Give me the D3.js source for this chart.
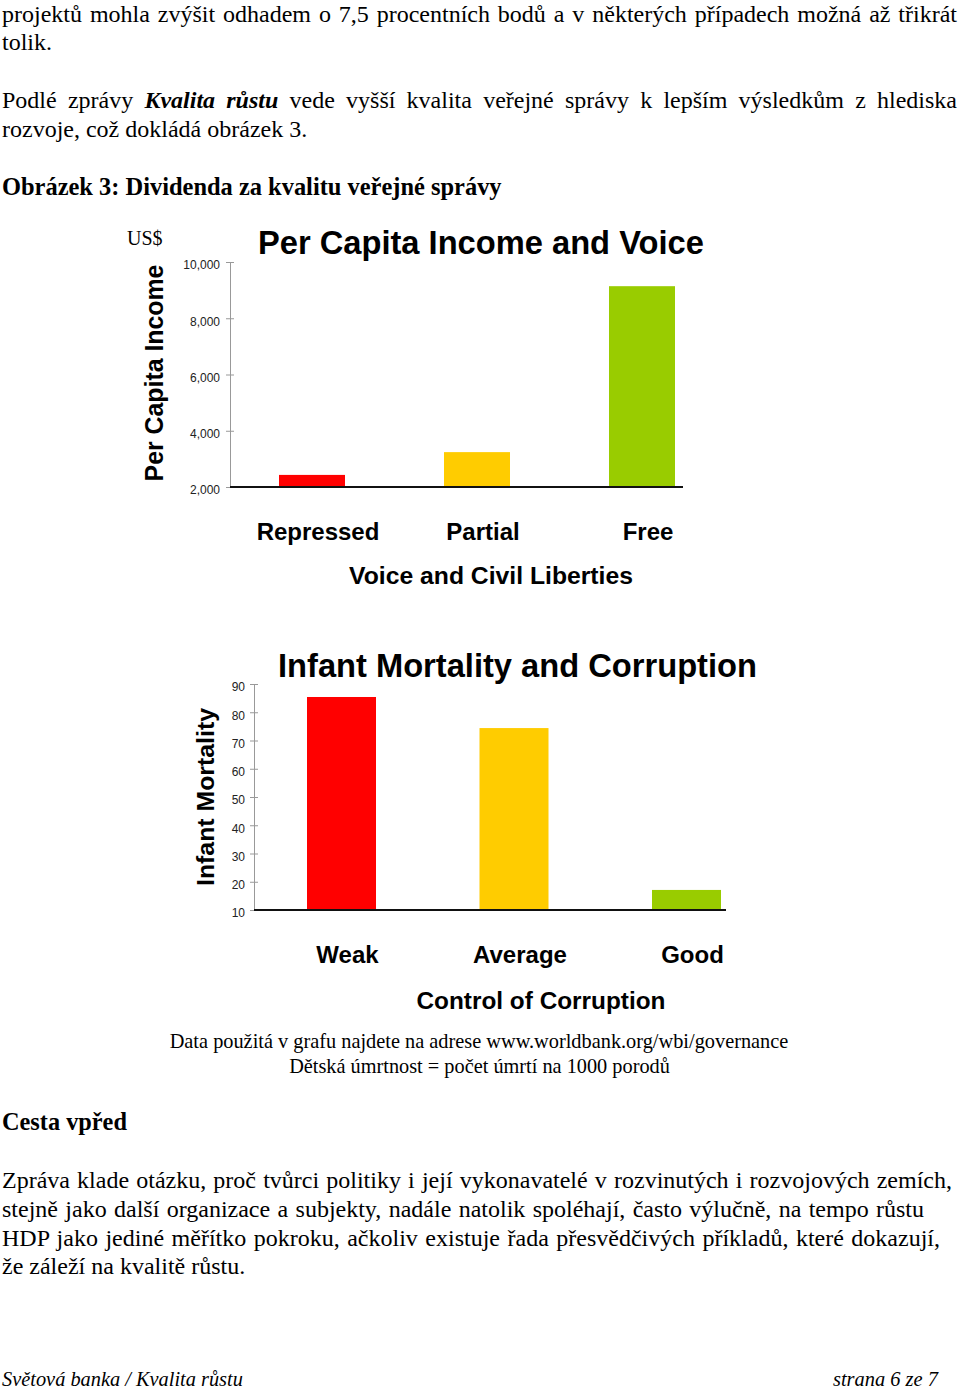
<!DOCTYPE html>
<html><head><meta charset="utf-8">
<script src="https://cdn.jsdelivr.net/npm/d3@7"></script>
<style>html,body{margin:0;padding:0;background:#fff;}svg{display:block;}</style>
</head><body>
<script>
// ---------- data ----------
const voiceCategories = ["Repressed", "Partial", "Free"];
const incomeValues = [2430, 3240, 9140];
const incomeTicks = [2000, 4000, 6000, 8000, 10000];

const corruptionCategories = ["Weak", "Average", "Good"];
const mortalityValues = [85.4, 74.4, 17.1];
const mortalityTicks = [10, 20, 30, 40, 50, 60, 70, 80, 90];

const barColors = ["#ff0000", "#ffcc00", "#99cc00"];

// ---------- page ----------
const W = 960, H = 1391;
const svg = d3.select("body").append("svg").attr("width", W).attr("height", H);
svg.append("rect").attr("width", W).attr("height", H).attr("fill", "#fff");

const SERIF = "'Liberation Serif','Times New Roman',serif";
const SANS = "'Liberation Sans',Arial,sans-serif";

function fitWidth(sel, w) {
  const len = sel.node().getComputedTextLength();
  const fs = parseFloat(sel.attr("font-size"));
  sel.attr("font-size", fs * w / len);
  return sel;
}
function justify(sel, w) {
  const n = sel.node();
  const len = n.getComputedTextLength();
  const spaces = (n.textContent.match(/ /g) || []).length;
  if (spaces > 0) sel.style("word-spacing", ((w - len) / spaces) + "px");
  return sel;
}
function bodyLine(x, y, txt, opts = {}) {
  const t = svg.append("text").attr("x", x).attr("y", y)
    .attr("font-family", SERIF).attr("font-size", opts.size || 24)
    .attr("font-weight", opts.bold ? "bold" : "normal")
    .attr("font-style", opts.italic ? "italic" : "normal")
    .attr("fill", "#000").text(txt);
  return t;
}

// top paragraph
justify(bodyLine(2, 22, "projektů mohla zvýšit odhadem o 7,5 procentních bodů a v některých případech možná až třikrát"), 955);
bodyLine(2, 50, "tolik.");
{
  const t = svg.append("text").attr("x", 2).attr("y", 108)
    .attr("font-family", SERIF).attr("font-size", 24).attr("fill", "#000");
  t.append("tspan").text("Podlé zprávy ");
  t.append("tspan").attr("font-weight", "bold").attr("font-style", "italic").text("Kvalita růstu");
  t.append("tspan").text(" vede vyšší kvalita veřejné správy k lepším výsledkům z hlediska");
  justify(t, 955);
}
bodyLine(2, 137, "rozvoje, což dokládá obrázek 3.");
fitWidth(bodyLine(2, 195, "Obrázek 3: Dividenda za kvalitu veřejné správy", { bold: true }), 500);

// ---------- chart helpers ----------
function drawChart(cfg) {
  const g = svg.append("g");
  const x = d3.scaleBand().domain(cfg.categories).range(cfg.xRange)
    .paddingInner(0.6).paddingOuter(0.2);
  const y = d3.scaleLinear().domain(cfg.yDomain).range(cfg.yRange);

  // y axis
  const ax = g.append("g").attr("transform", `translate(${cfg.axisX},0)`)
    .call(d3.axisLeft(y).tickValues(cfg.ticks).tickFormat(cfg.fmt).tickSizeOuter(0).tickSizeInner(4).tickPadding(6));
  ax.select(".domain").attr("stroke", "#999").attr("stroke-width", 1);
  ax.selectAll(".tick line").attr("x1", -4).attr("x2", 4).attr("stroke", "#999");
  ax.selectAll(".tick text").attr("x", cfg.labelX).attr("dy", "0.32em")
    .attr("transform", "translate(0,3)")
    .attr("font-family", SANS).attr("font-size", 12).attr("fill", "#222");

  // bars
  g.selectAll("rect.bar").data(cfg.values).join("rect").attr("class", "bar")
    .attr("x", (d, i) => x(cfg.categories[i]))
    .attr("width", x.bandwidth())
    .attr("y", d => y(d))
    .attr("height", d => y(cfg.yDomain[0]) - y(d))
    .attr("fill", (d, i) => barColors[i]);

  // baseline
  g.append("line").attr("x1", cfg.axisX).attr("x2", cfg.baseEnd)
    .attr("y1", y(cfg.yDomain[0])).attr("y2", y(cfg.yDomain[0]))
    .attr("stroke", "#111").attr("stroke-width", 2);

  // category labels
  g.selectAll("text.cat").data(cfg.categories).join("text").attr("class", "cat")
    .attr("x", d => x(d) + x.bandwidth() / 2 + 6).attr("y", cfg.catY)
    .attr("text-anchor", "middle").attr("font-family", SANS)
    .attr("font-weight", "bold").attr("font-size", 24).attr("fill", "#000").text(d => d);

  // x title
  fitWidth(g.append("text").attr("x", cfg.xTitle[0]).attr("y", cfg.xTitle[1])
    .attr("text-anchor", "middle").attr("font-family", SANS).attr("font-weight", "bold")
    .attr("font-size", 24).attr("fill", "#000").text(cfg.xTitleText), cfg.xTitle[2]);

  // chart title
  fitWidth(g.append("text").attr("x", cfg.title[0]).attr("y", cfg.title[1])
    .attr("font-family", SANS).attr("font-weight", "bold")
    .attr("font-size", 30).attr("fill", "#000").text(cfg.titleText), cfg.title[2]);

  // y title (rotated)
  fitWidth(g.append("text").attr("transform", `translate(${cfg.yTitle[0]},${cfg.yTitle[1]}) rotate(-90)`)
    .attr("text-anchor", "middle").attr("font-family", SANS).attr("font-weight", "bold")
    .attr("font-size", 24).attr("fill", "#000").text(cfg.yTitleText), cfg.yTitle[2]);
}

// chart 1
drawChart({
  categories: voiceCategories, values: incomeValues, ticks: incomeTicks,
  fmt: d3.format(","), yDomain: [2000, 10000], yRange: [487, 262],
  xRange: [246, 708], axisX: 230, baseEnd: 683, labelX: -10,
  catY: 540, xTitle: [491, 584, 284], xTitleText: "Voice and Civil Liberties",
  title: [258, 254, 446], titleText: "Per Capita Income and Voice",
  yTitle: [163, 373, 217], yTitleText: "Per Capita Income"
});
svg.append("text").attr("x", 127).attr("y", 245).attr("font-family", SERIF)
  .attr("font-size", 20).attr("fill", "#000").text("US$");

// chart 2
drawChart({
  categories: corruptionCategories, values: mortalityValues, ticks: mortalityTicks,
  fmt: d3.format("d"), yDomain: [10, 90], yRange: [910, 684],
  xRange: [272.5, 755.5], axisX: 254, baseEnd: 726, labelX: -9,
  catY: 963, xTitle: [541, 1009, 249], xTitleText: "Control of Corruption",
  title: [278, 677, 479], titleText: "Infant Mortality and Corruption",
  yTitle: [214, 797, 178], yTitleText: "Infant Mortality"
});

// caption
fitWidth(svg.append("text").attr("x", 479).attr("y", 1048).attr("text-anchor", "middle")
  .attr("font-family", SERIF).attr("font-size", 20).attr("fill", "#000")
  .text("Data použitá v grafu najdete na adrese www.worldbank.org/wbi/governance"), 619);
fitWidth(svg.append("text").attr("x", 479.5).attr("y", 1073).attr("text-anchor", "middle")
  .attr("font-family", SERIF).attr("font-size", 20).attr("fill", "#000")
  .text("Dětská úmrtnost = počet úmrtí na 1000 porodů"), 381);

// bottom section
fitWidth(bodyLine(2, 1130, "Cesta vpřed", { bold: true }), 125);
justify(bodyLine(2, 1188, "Zpráva klade otázku, proč tvůrci politiky i její vykonavatelé v rozvinutých i rozvojových zemích,"), 950);
justify(bodyLine(2, 1217, "stejně jako další organizace a subjekty, nadále natolik spoléhají, často výlučně, na tempo růstu"), 922);
justify(bodyLine(2, 1246, "HDP jako jediné měřítko pokroku, ačkoliv existuje řada přesvědčivých příkladů, které dokazují,"), 938);
bodyLine(2, 1274, "že záleží na kvalitě růstu.");

fitWidth(bodyLine(2, 1386, "Světová banka / Kvalita růstu", { italic: true, size: 20 }), 241);
fitWidth(bodyLine(833, 1386, "strana 6 ze 7", { italic: true, size: 20 }), 105);
</script>
</body></html>
